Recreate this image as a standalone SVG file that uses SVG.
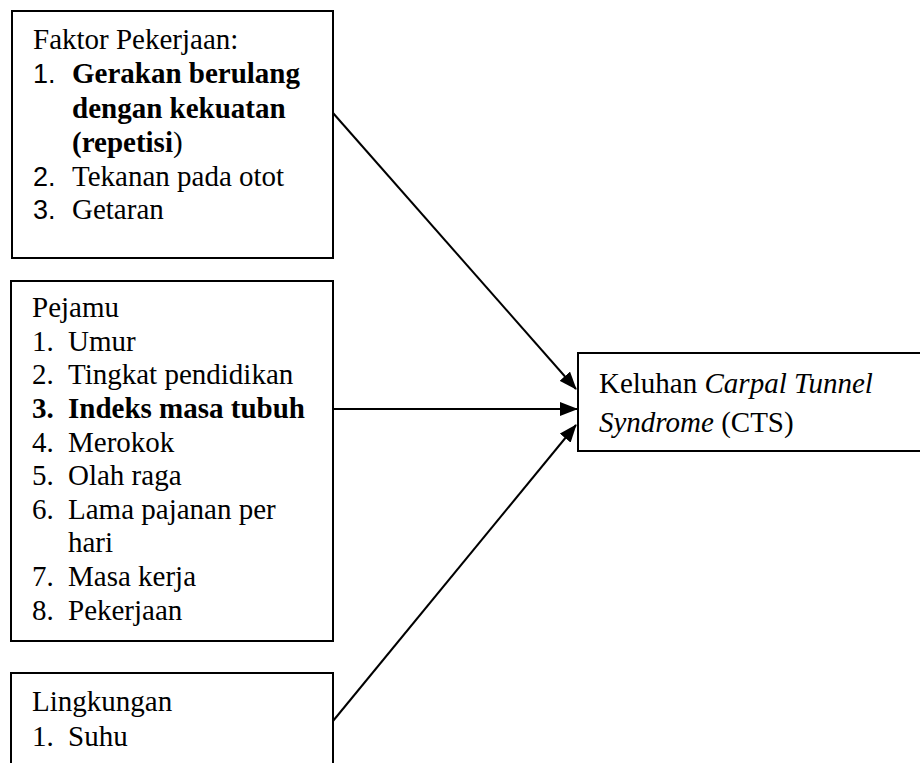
<svg xmlns="http://www.w3.org/2000/svg" width="920" height="763" viewBox="0 0 920 763">
<style>
.box{fill:#fff;stroke:#000;stroke-width:2}
.t{font-family:"Liberation Serif","Times New Roman",serif;font-size:29px;fill:#000}
.n{font-family:"Liberation Sans",Arial,sans-serif;font-size:27px;fill:#000}
.b{font-weight:bold}
.i{font-style:italic}
.con{stroke:#000;stroke-width:2;fill:none}
</style>
<defs>
<marker id="ah" markerUnits="userSpaceOnUse" markerWidth="18" markerHeight="14" refX="17" refY="7" orient="auto">
<path d="M0,0 L18,7 L0,14 z" fill="#000"/>
</marker>
</defs>
<rect width="920" height="763" fill="#fff"/>
<g id="faktor-pekerjaan">
<rect class="box" x="12" y="11" width="321" height="247"/>
<text class="t" x="33" y="49">Faktor Pekerjaan:</text>
<text class="n" x="33" y="83">1.</text>
<text class="t b" x="72" y="83">Gerakan berulang</text>
<text class="t b" x="72" y="118">dengan kekuatan</text>
<text class="t" x="72" y="152"><tspan class="b">(repetisi</tspan>)</text>
<text class="n" x="33" y="186">2.</text>
<text class="t" x="72" y="186">Tekanan pada otot</text>
<text class="n" x="33" y="219">3.</text>
<text class="t" x="72" y="219">Getaran</text>
</g>
<g id="pejamu">
<rect class="box" x="11" y="281" width="322" height="360"/>
<text class="t" x="32" y="317">Pejamu</text>
<text class="t" x="32" y="351">1.</text><text class="t" x="68" y="351">Umur</text>
<text class="t" x="32" y="384">2.</text><text class="t" x="68" y="384">Tingkat pendidikan</text>
<text class="t b" x="32" y="418">3.</text><text class="t b" x="68" y="418">Indeks masa tubuh</text>
<text class="t" x="32" y="452">4.</text><text class="t" x="68" y="452">Merokok</text>
<text class="t" x="32" y="485">5.</text><text class="t" x="68" y="485">Olah raga</text>
<text class="t" x="32" y="519">6.</text><text class="t" x="68" y="519">Lama pajanan per</text>
<text class="t" x="68" y="552">hari</text>
<text class="t" x="32" y="586">7.</text><text class="t" x="68" y="586">Masa kerja</text>
<text class="t" x="32" y="620">8.</text><text class="t" x="68" y="620">Pekerjaan</text>
</g>
<g id="lingkungan">
<rect class="box" x="11" y="673" width="322" height="110"/>
<text class="t" x="32" y="711">Lingkungan</text>
<text class="t" x="32" y="746">1.</text><text class="t" x="68" y="746">Suhu</text>
</g>
<g id="keluhan-cts">
<rect class="box" x="578" y="353" width="360" height="98"/>
<text class="t" x="599" y="393">Keluhan <tspan class="i">Carpal Tunnel</tspan></text>
<text class="t" x="599" y="432"><tspan class="i">Syndrome</tspan> (CTS)</text>
</g>
<g id="connectors">
<line class="con" x1="333" y1="113" x2="576" y2="389" marker-end="url(#ah)"/>
<line class="con" x1="333" y1="409" x2="577" y2="409" marker-end="url(#ah)"/>
<line class="con" x1="333" y1="721" x2="576" y2="425" marker-end="url(#ah)"/>
</g>
</svg>
